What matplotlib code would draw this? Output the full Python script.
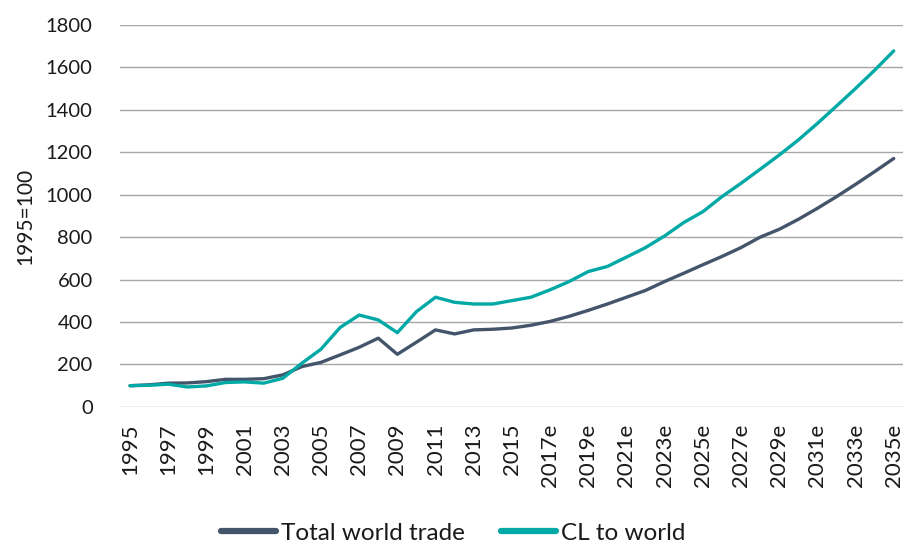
import matplotlib
matplotlib.use("Agg")
import matplotlib.pyplot as plt

years = [str(y) for y in range(1995, 2017)] + [f"{y}e" for y in range(2017, 2036)]

total_world_trade = [100, 104, 112, 113, 119, 130, 130, 133, 151, 190, 210, 245, 281, 324, 248,
                     305, 363, 344, 363, 366, 372, 385, 403, 427, 455, 485, 517, 549, 591, 630,
                     670, 709, 751, 800, 837, 884, 936, 991, 1049, 1109, 1171]
cl_to_world = [100, 102, 107, 94, 99, 115, 118, 112, 135, 206, 272, 374, 433, 410, 350,
               449, 517, 493, 485, 485, 501, 517, 552, 591, 638, 662, 706, 751, 806, 869,
               920, 991, 1054, 1120, 1187, 1258, 1336, 1418, 1501, 1587, 1678]

y_ticks = [0, 200, 400, 600, 800, 1000, 1200, 1400, 1600, 1800]

plt.rcParams['font.family'] = ['Lato', 'DejaVu Sans']

fig = plt.figure(figsize=(9.06, 5.44), dpi=100)
ax = fig.add_axes([0.133, 0.252, 0.864, 0.702])

x = list(range(len(years)))
ax.plot(x, total_world_trade, color='#44546A', lw=2.4, solid_capstyle='round',
        solid_joinstyle='round', label='Total world trade', zorder=3)
ax.plot(x, cl_to_world, color='#00A9A5', lw=2.4, solid_capstyle='round',
        solid_joinstyle='round', label='CL to world', zorder=3)

ax.set_xlim(-0.5, len(years) - 0.5)
ax.set_ylim(0, 1800)
ax.set_yticks(y_ticks)
ax.set_yticklabels([str(v) for v in y_ticks], fontsize=14.5, color='#1a1a1a')
ax.set_xticks(x[::2])
ax.set_xticklabels(years[::2], rotation=90, fontsize=16, color='#1a1a1a', va='top')
ax.tick_params(axis='both', length=0)
ax.tick_params(axis='y', pad=20)
ax.tick_params(axis='x', pad=12)
ax.grid(axis='y', color='#A6A6A6', lw=1.0)
ax.set_axisbelow(True)
for s in ax.spines.values():
    s.set_visible(False)

ax.set_ylabel('1995=100', fontsize=15, color='#1a1a1a')
ax.yaxis.set_label_coords(-0.109, 0.5)

leg = fig.legend(loc='center', bbox_to_anchor=(0.5, 1 - 533 / 544), ncol=2, frameon=False,
                 fontsize=17.5, handlelength=2.26, columnspacing=1.5, handletextpad=0.2)
for line in leg.get_lines():
    line.set_linewidth(4.5)
for t in leg.get_texts():
    t.set_color('#1a1a1a')

fig.savefig('out.png', dpi=100)
